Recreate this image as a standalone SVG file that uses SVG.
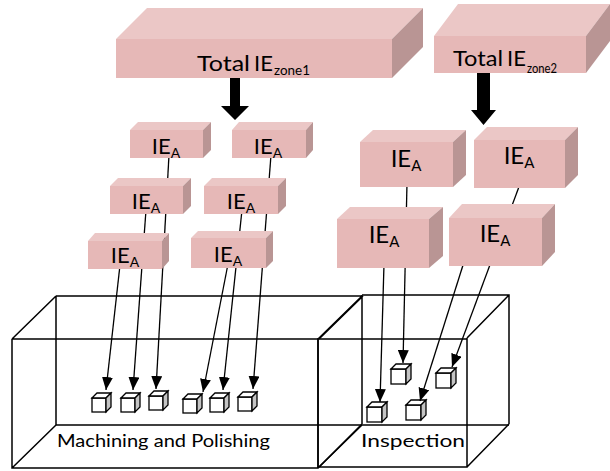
<svg xmlns="http://www.w3.org/2000/svg" width="610" height="471" viewBox="0 0 610 471">
<style>
.front{fill:#E6B8B7}
.top{fill:#EBC7C6}
.side{fill:#B99594}
.wire{fill:none;stroke:#000;stroke-width:1.5}
.cf{fill:#fff;stroke:#000;stroke-width:1.3}
.cs{fill:#C4C4C4;stroke:#000;stroke-width:1.3}
.con{stroke:#000;stroke-width:1.3;fill:none}
.t{font-family:Lato,"Liberation Sans",sans-serif;fill:#000}
</style>
<defs>
<marker id="ah" markerUnits="userSpaceOnUse" markerWidth="13" markerHeight="11" refX="13" refY="5.5" orient="auto"><path d="M0,0 L13,5.5 L0,11 z" fill="#000"/></marker>
</defs>
<rect width="610" height="471" fill="#fff"/>

<g id="zone-machining">
<path class="wire" d="M56,296 H362 M56,296 V425 M56,425 H509 M12,339 H467 M12,339 V468 H318 V339 M12,339 L56,296 M12,468 L56,425 M318,468 L362,425 M318,339 L362,296"/>
<text class="t" x="57" y="447" font-size="18" textLength="213" lengthAdjust="spacingAndGlyphs">Machining and Polishing</text>
</g>
<g id="zone-inspection">
<path class="wire" d="M319,339 L363,296 M362,295 H509 V424 M362,295 V424 M318,338 V467 H467 V338 M467,338 L509,295 M467,467 L509,424 M319,467 L362,424"/>
<text class="t" x="361" y="447" font-size="18" textLength="104" lengthAdjust="spacingAndGlyphs">Inspection</text>
</g>

<g id="cubes">
<g id="c1"><rect class="cf" x="92" y="398" width="14" height="14"/><path class="cf" d="M92,398 L97,393 H111 L106,398 Z"/><path class="cs" d="M106,398 L111,393 V407 L106,412 Z"/></g>
<g id="c2"><rect class="cf" x="121" y="398" width="14" height="14"/><path class="cf" d="M121,398 L126,393 H140 L135,398 Z"/><path class="cs" d="M135,398 L140,393 V407 L135,412 Z"/></g>
<g id="c3"><rect class="cf" x="149" y="396" width="14" height="14"/><path class="cf" d="M149,396 L154,391 H168 L163,396 Z"/><path class="cs" d="M163,396 L168,391 V405 L163,410 Z"/></g>
<g id="c4"><rect class="cf" x="183" y="399" width="14" height="14"/><path class="cf" d="M183,399 L188,394 H202 L197,399 Z"/><path class="cs" d="M197,399 L202,394 V408 L197,413 Z"/></g>
<g id="c5"><rect class="cf" x="210" y="398" width="14" height="14"/><path class="cf" d="M210,398 L215,393 H229 L224,398 Z"/><path class="cs" d="M224,398 L229,393 V407 L224,412 Z"/></g>
<g id="c6"><rect class="cf" x="238" y="397" width="14" height="14"/><path class="cf" d="M238,397 L243,392 H257 L252,397 Z"/><path class="cs" d="M252,397 L257,392 V406 L252,411 Z"/></g>
<g id="i1"><rect class="cf" x="367" y="407" width="15" height="15"/><path class="cf" d="M367,407 L372,402 H387 L382,407 Z"/><path class="cs" d="M382,407 L387,402 V417 L382,422 Z"/></g>
<g id="i2"><rect class="cf" x="391" y="369" width="15" height="15"/><path class="cf" d="M391,369 L396,364 H411 L406,369 Z"/><path class="cs" d="M406,369 L411,364 V379 L406,384 Z"/></g>
<g id="i3"><rect class="cf" x="406" y="405" width="15" height="15"/><path class="cf" d="M406,405 L411,400 H426 L421,405 Z"/><path class="cs" d="M421,405 L426,400 V415 L421,420 Z"/></g>
<g id="i4"><rect class="cf" x="436" y="373" width="15" height="15"/><path class="cf" d="M436,373 L441,368 H456 L451,373 Z"/><path class="cs" d="M451,373 L456,368 V383 L451,388 Z"/></g>
</g>

<g id="connectors">
<line class="con" marker-end="url(#ah)" x1="120" y1="265" x2="106" y2="390"/>
<line class="con" marker-end="url(#ah)" x1="146" y1="210" x2="133" y2="390"/>
<line class="con" marker-end="url(#ah)" x1="169" y1="155" x2="156" y2="389"/>
<line class="con" marker-end="url(#ah)" x1="228" y1="264" x2="203" y2="392"/>
<line class="con" marker-end="url(#ah)" x1="242" y1="210" x2="223" y2="390"/>
<line class="con" marker-end="url(#ah)" x1="271" y1="155" x2="253" y2="389"/>
<line class="con" marker-end="url(#ah)" x1="384" y1="264" x2="380" y2="402"/>
<line class="con" marker-end="url(#ah)" x1="407" y1="183" x2="403" y2="363"/>
<line class="con" marker-end="url(#ah)" x1="464" y1="262" x2="420" y2="401"/>
<line class="con" marker-end="url(#ah)" x1="520" y1="184" x2="452" y2="367"/>
</g>

<g id="total-zone1">
<rect class="front" x="116" y="39" width="276" height="39"/>
<path class="top" d="M116,39 L147,8 H423 L392,39 Z"/>
<path class="side" d="M392,39 L423,8 V47 L392,78 Z"/>
<text class="t" font-size="22"><tspan x="197" y="71" textLength="53" lengthAdjust="spacingAndGlyphs">Total</tspan><tspan x="254" y="71">IE</tspan><tspan x="274" y="75" font-size="14" textLength="36" lengthAdjust="spacingAndGlyphs">zone1</tspan></text>
</g>
<g id="total-zone2">
<rect class="front" x="434" y="36" width="152" height="37"/>
<path class="top" d="M434,36 L458,4 H610 L586,36 Z"/>
<path class="side" d="M586,36 L610,4 V41 L586,73 Z"/>
<text class="t" font-size="22"><tspan x="453" y="66" textLength="50" lengthAdjust="spacingAndGlyphs">Total</tspan><tspan x="507" y="66">IE</tspan><tspan x="527" y="73" font-size="13" textLength="30" lengthAdjust="spacingAndGlyphs">zone2</tspan></text>
</g>

<g id="z1-r1-left">
<rect class="front" x="130" y="130" width="73" height="28"/>
<path class="top" d="M130,130 L138,122 H211 L203,130 Z"/>
<path class="side" d="M203,130 L211,122 V150 L203,158 Z"/>
<text class="t" x="166" y="154" font-size="22" text-anchor="middle">IE<tspan font-size="14" dy="4">A</tspan></text>
</g>
<g id="z1-r1-right">
<rect class="front" x="232" y="130" width="74" height="28"/>
<path class="top" d="M232,130 L239,122 H313 L306,130 Z"/>
<path class="side" d="M306,130 L313,122 V150 L306,158 Z"/>
<text class="t" x="268" y="154" font-size="22" text-anchor="middle">IE<tspan font-size="14" dy="4">A</tspan></text>
</g>
<g id="z1-r2-left">
<rect class="front" x="110" y="186" width="73" height="28"/>
<path class="top" d="M110,186 L118,178 H191 L183,186 Z"/>
<path class="side" d="M183,186 L191,178 V206 L183,214 Z"/>
<text class="t" x="146" y="209" font-size="22" text-anchor="middle">IE<tspan font-size="14" dy="4">A</tspan></text>
</g>
<g id="z1-r2-right">
<rect class="front" x="204" y="186" width="74" height="28"/>
<path class="top" d="M204,186 L212,178 H286 L278,186 Z"/>
<path class="side" d="M278,186 L286,178 V206 L278,214 Z"/>
<text class="t" x="241" y="209" font-size="22" text-anchor="middle">IE<tspan font-size="14" dy="4">A</tspan></text>
</g>
<g id="z1-r3-left">
<rect class="front" x="88" y="241" width="74" height="28"/>
<path class="top" d="M88,241 L95,233 H169 L162,241 Z"/>
<path class="side" d="M162,241 L169,233 V261 L162,269 Z"/>
<text class="t" x="125" y="263" font-size="22" text-anchor="middle">IE<tspan font-size="14" dy="4">A</tspan></text>
</g>
<g id="z1-r3-right">
<rect class="front" x="191" y="238" width="75" height="30"/>
<path class="top" d="M191,238 L198,231 H273 L266,238 Z"/>
<path class="side" d="M266,238 L273,231 V261 L266,268 Z"/>
<text class="t" x="228" y="262" font-size="22" text-anchor="middle">IE<tspan font-size="14" dy="4">A</tspan></text>
</g>

<g id="z2-r1-left">
<rect class="front" x="360" y="142" width="93" height="45"/>
<path class="top" d="M360,142 L373,130 H466 L453,142 Z"/>
<path class="side" d="M453,142 L466,130 V175 L453,187 Z"/>
<text class="t" x="406" y="167" font-size="24" text-anchor="middle">IE<tspan font-size="15" dy="4">A</tspan></text>
</g>
<g id="z2-r1-right">
<rect class="front" x="474" y="140" width="91" height="48"/>
<path class="top" d="M474,140 L487,127 H578 L565,140 Z"/>
<path class="side" d="M565,140 L578,127 V175 L565,188 Z"/>
<text class="t" x="519" y="164" font-size="24" text-anchor="middle">IE<tspan font-size="15" dy="4">A</tspan></text>
</g>
<g id="z2-r2-left">
<rect class="front" x="337" y="219" width="92" height="49"/>
<path class="top" d="M337,219 L350,207 H443 L429,219 Z"/>
<path class="side" d="M429,219 L443,207 V256 L429,268 Z"/>
<text class="t" x="384" y="243" font-size="24" text-anchor="middle">IE<tspan font-size="15" dy="4">A</tspan></text>
</g>
<g id="z2-r2-right">
<rect class="front" x="449" y="218" width="93" height="48"/>
<path class="top" d="M449,218 L462,204 H555 L542,218 Z"/>
<path class="side" d="M542,218 L555,204 V252 L542,266 Z"/>
<text class="t" x="495" y="242" font-size="24" text-anchor="middle">IE<tspan font-size="15" dy="4">A</tspan></text>
</g>

<g id="block-arrows">
<path d="M230,78 H240 V106 H249 L235,120 L221,106 H230 Z" fill="#000"/>
<path d="M477,73 H490 V110 H496 L483.5,125 L471,110 H477 Z" fill="#000"/>
</g>
</svg>
